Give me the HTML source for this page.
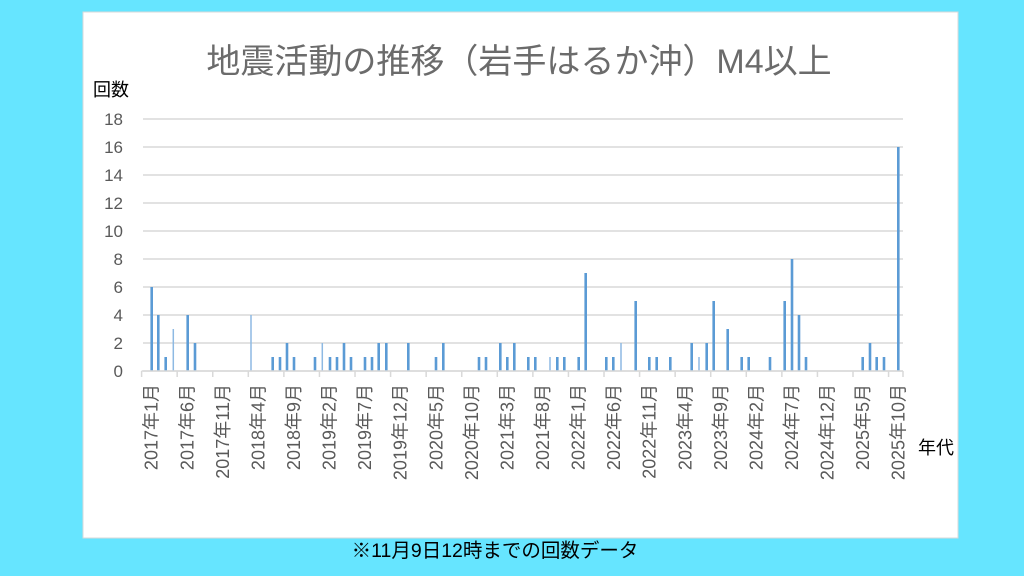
<!DOCTYPE html>
<html><head><meta charset="utf-8"><style>
html,body{margin:0;padding:0;background:#66E5FF;}
svg{display:block;font-family:"Liberation Sans","Noto Sans CJK JP",sans-serif;}
</style></head><body>
<svg width="1024" height="576" viewBox="0 0 1024 576">
<rect x="0" y="0" width="1024" height="576" fill="#66E5FF"/>
<rect x="83" y="12" width="875" height="526" fill="#fff" stroke="#d9d9d9"/>
<text x="519" y="73" text-anchor="middle" font-size="34" fill="#6b6b6b">地震活動の推移（岩手はるか沖）M4以上</text>
<text x="93" y="96" font-size="18" fill="#000">回数</text>
<text x="918" y="454" font-size="18" fill="#000">年代</text>
<text x="495" y="557" text-anchor="middle" font-size="19.5" fill="#000">※11月9日12時までの回数データ</text>
<g stroke="#d9d9d9" stroke-width="1.5">
<line x1="143" x2="903" y1="119" y2="119"/><line x1="143" x2="903" y1="147" y2="147"/>
<line x1="143" x2="903" y1="175" y2="175"/><line x1="143" x2="903" y1="203" y2="203"/>
<line x1="143" x2="903" y1="231" y2="231"/><line x1="143" x2="903" y1="259" y2="259"/>
<line x1="143" x2="903" y1="287" y2="287"/><line x1="143" x2="903" y1="315" y2="315"/>
<line x1="143" x2="903" y1="343" y2="343"/><line x1="143" x2="903" y1="371" y2="371"/>
</g>
<g font-size="17" fill="#595959" text-anchor="end">
<text x="123" y="125">18</text><text x="123" y="153">16</text><text x="123" y="181">14</text>
<text x="123" y="209">12</text><text x="123" y="237">10</text><text x="123" y="265">8</text>
<text x="123" y="293">6</text><text x="123" y="321">4</text><text x="123" y="349">2</text>
<text x="123" y="377">0</text>
</g>
<g id="bars" fill="#5B9BD5"></g>
<g id="ticks" stroke="#d9d9d9" stroke-width="1.5"></g>
<g id="labels" font-size="18" fill="#595959"></g>
</svg>
<script>
var d=[[151.7,6],[158.3,4],[165.7,1],[173.3,3,1],[187.7,4],[195,2],[251,4,1],[272.7,1],[280,1],[287,2],[294,1],[315,1],[322.3,2,1],[330,1],[337,1],[344,2],[351,1],[365,1],[372,1],[378.7,2],[386.3,2],
[408.3,2],[436,1],[443.3,2],[479,1],[486,1],[500.3,2],[507.3,1],[514.3,2],[528.3,1],[535.3,1],[550,1,1],[557.3,1],[564.3,1],[578.7,1],[585.7,7],[606.3,1],[613.3,1],[621,2,1],[635.7,5],
[649.3,1],[656.7,1],[670.3,1],[691.7,2],[699,1,1],[706.7,2],[713.7,5],[727.7,3],[741.7,1],[748.7,1],[770,1],[784.7,5],[792,8],[799,4],[806,1],[862.7,1],[870,2],[876.7,1],[884,1],[898.3,16]];
var ns="http://www.w3.org/2000/svg",b=document.getElementById("bars");
d.forEach(function(e){var r=document.createElementNS(ns,"rect");var w=e[2]?1.5:2.6;
r.setAttribute("x",e[0]-w/2);r.setAttribute("width",w);r.setAttribute("y",371-e[1]*14);r.setAttribute("height",e[1]*14);
if(e[2])r.setAttribute("fill","#8DB9E3");b.appendChild(r);});
var t=document.getElementById("ticks");
var xs=[];for(var i=0;i<=21;i++)xs.push(141.6+35.57*i);xs.push(903);
xs.forEach(function(x){var l=document.createElementNS(ns,"line");l.setAttribute("x1",x);l.setAttribute("x2",x);l.setAttribute("y1",371);l.setAttribute("y2",377);t.appendChild(l);});
var h=document.createElementNS(ns,"line");h.setAttribute("x1",141.6);h.setAttribute("x2",903);h.setAttribute("y1",371);h.setAttribute("y2",371);t.appendChild(h);
var lg=document.getElementById("labels");
for(var i=0;i<22;i++){var m=i*5,y=2017+Math.floor(m/12),mo=m%12+1;var x=151.7+35.57*i+6;
var tx=document.createElementNS(ns,"text");tx.setAttribute("transform","translate("+x+",384) rotate(-90)");tx.setAttribute("text-anchor","end");tx.textContent=y+"年"+mo+"月";lg.appendChild(tx);}
</script>
</body></html>
